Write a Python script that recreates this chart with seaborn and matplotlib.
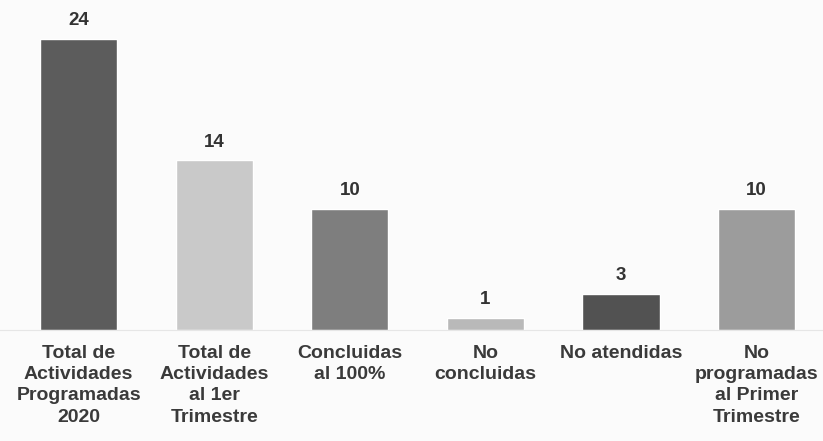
import matplotlib
matplotlib.use("Agg")
import matplotlib.pyplot as plt
import seaborn as sns
import pandas as pd

categorias = ["Total de\nActividades\nProgramadas\n2020",
              "Total de\nActividades\nal 1er\nTrimestre",
              "Concluidas\nal 100%",
              "No\nconcluidas",
              "No atendidas",
              "No\nprogramadas\nal Primer\nTrimestre"]
valores = [24, 14, 10, 1, 3, 10]
colores = ["#5c5c5c", "#c9c9c9", "#7e7e7e", "#b9b9b9", "#525252", "#9c9c9c"]

df = pd.DataFrame({"cat": categorias, "val": valores})

sns.set_style("white")
plt.rcParams['font.family'] = ['Liberation Sans', 'DejaVu Sans']

fig = plt.figure(figsize=(8.23, 4.41), dpi=100, facecolor="#fbfbfb")
ax = fig.add_axes([0, 0.252, 1, 0.728])
ax.set_facecolor("#fbfbfb")

sns.barplot(data=df, x="cat", y="val", hue="cat", palette=colores,
            legend=False, width=0.57, ax=ax, saturation=1)

# etiquetas de valor encima de cada barra
for i, v in enumerate(valores):
    ax.text(i, v + 0.8, str(v), ha="center", va="bottom", fontsize=13.5,
            fontweight="bold", color="#333333")

ax.set_xlim(-0.58, 5.49)
ax.set_ylim(0, 26.5)
ax.set_xlabel("")
ax.set_ylabel("")
ax.set_yticks([])
ax.tick_params(axis="x", length=0, pad=11)
for lbl in ax.get_xticklabels():
    lbl.set_fontsize(14)
    lbl.set_fontweight("bold")
    lbl.set_color("#3a3a3a")
    lbl.set_linespacing(1.32)
    lbl.set_va("top")
for s in ["top", "left", "right"]:
    ax.spines[s].set_visible(False)
ax.spines["bottom"].set_color("#e6e6e6")

fig.savefig("out.png", dpi=100, facecolor=fig.get_facecolor())
